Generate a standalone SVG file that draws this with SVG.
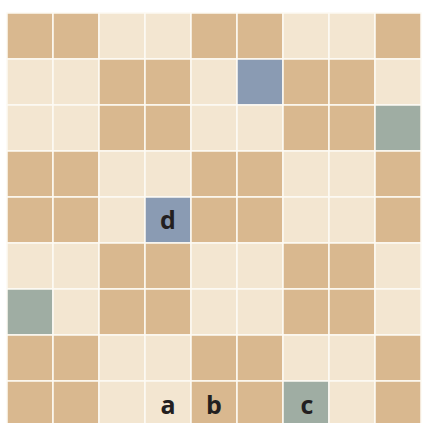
<svg xmlns="http://www.w3.org/2000/svg" width="422" height="423" viewBox="0 0 422 423">
<style>
rect{stroke:#fdfaf4;stroke-width:1.5}
.D{fill:#d9b88f}
.L{fill:#f3e6d1}
.B{fill:#8a9bb3}
.G{fill:#9fada3}
text{font-family:"Open Sans","Liberation Sans",sans-serif;font-weight:bold;font-size:25px;fill:#231f20;text-anchor:middle}
</style>
<rect width="422" height="423" fill="#ffffff" style="stroke:none"/>
<g id="grid">
<g id="row0">
<rect class="D" x="7" y="13" width="46" height="46"/><rect class="D" x="53" y="13" width="46" height="46"/><rect class="L" x="99" y="13" width="46" height="46"/><rect class="L" x="145" y="13" width="46" height="46"/><rect class="D" x="191" y="13" width="46" height="46"/><rect class="D" x="237" y="13" width="46" height="46"/><rect class="L" x="283" y="13" width="46" height="46"/><rect class="L" x="329" y="13" width="46" height="46"/><rect class="D" x="375" y="13" width="46" height="46"/>
</g>
<g id="row1">
<rect class="L" x="7" y="59" width="46" height="46"/><rect class="L" x="53" y="59" width="46" height="46"/><rect class="D" x="99" y="59" width="46" height="46"/><rect class="D" x="145" y="59" width="46" height="46"/><rect class="L" x="191" y="59" width="46" height="46"/><rect class="B" x="237" y="59" width="46" height="46"/><rect class="D" x="283" y="59" width="46" height="46"/><rect class="D" x="329" y="59" width="46" height="46"/><rect class="L" x="375" y="59" width="46" height="46"/>
</g>
<g id="row2">
<rect class="L" x="7" y="105" width="46" height="46"/><rect class="L" x="53" y="105" width="46" height="46"/><rect class="D" x="99" y="105" width="46" height="46"/><rect class="D" x="145" y="105" width="46" height="46"/><rect class="L" x="191" y="105" width="46" height="46"/><rect class="L" x="237" y="105" width="46" height="46"/><rect class="D" x="283" y="105" width="46" height="46"/><rect class="D" x="329" y="105" width="46" height="46"/><rect class="G" x="375" y="105" width="46" height="46"/>
</g>
<g id="row3">
<rect class="D" x="7" y="151" width="46" height="46"/><rect class="D" x="53" y="151" width="46" height="46"/><rect class="L" x="99" y="151" width="46" height="46"/><rect class="L" x="145" y="151" width="46" height="46"/><rect class="D" x="191" y="151" width="46" height="46"/><rect class="D" x="237" y="151" width="46" height="46"/><rect class="L" x="283" y="151" width="46" height="46"/><rect class="L" x="329" y="151" width="46" height="46"/><rect class="D" x="375" y="151" width="46" height="46"/>
</g>
<g id="row4">
<rect class="D" x="7" y="197" width="46" height="46"/><rect class="D" x="53" y="197" width="46" height="46"/><rect class="L" x="99" y="197" width="46" height="46"/><rect class="B" x="145" y="197" width="46" height="46"/><rect class="D" x="191" y="197" width="46" height="46"/><rect class="D" x="237" y="197" width="46" height="46"/><rect class="L" x="283" y="197" width="46" height="46"/><rect class="L" x="329" y="197" width="46" height="46"/><rect class="D" x="375" y="197" width="46" height="46"/>
</g>
<g id="row5">
<rect class="L" x="7" y="243" width="46" height="46"/><rect class="L" x="53" y="243" width="46" height="46"/><rect class="D" x="99" y="243" width="46" height="46"/><rect class="D" x="145" y="243" width="46" height="46"/><rect class="L" x="191" y="243" width="46" height="46"/><rect class="L" x="237" y="243" width="46" height="46"/><rect class="D" x="283" y="243" width="46" height="46"/><rect class="D" x="329" y="243" width="46" height="46"/><rect class="L" x="375" y="243" width="46" height="46"/>
</g>
<g id="row6">
<rect class="G" x="7" y="289" width="46" height="46"/><rect class="L" x="53" y="289" width="46" height="46"/><rect class="D" x="99" y="289" width="46" height="46"/><rect class="D" x="145" y="289" width="46" height="46"/><rect class="L" x="191" y="289" width="46" height="46"/><rect class="L" x="237" y="289" width="46" height="46"/><rect class="D" x="283" y="289" width="46" height="46"/><rect class="D" x="329" y="289" width="46" height="46"/><rect class="L" x="375" y="289" width="46" height="46"/>
</g>
<g id="row7">
<rect class="D" x="7" y="335" width="46" height="46"/><rect class="D" x="53" y="335" width="46" height="46"/><rect class="L" x="99" y="335" width="46" height="46"/><rect class="L" x="145" y="335" width="46" height="46"/><rect class="D" x="191" y="335" width="46" height="46"/><rect class="D" x="237" y="335" width="46" height="46"/><rect class="L" x="283" y="335" width="46" height="46"/><rect class="L" x="329" y="335" width="46" height="46"/><rect class="D" x="375" y="335" width="46" height="46"/>
</g>
<g id="row8">
<rect class="D" x="7" y="381" width="46" height="46"/><rect class="D" x="53" y="381" width="46" height="46"/><rect class="L" x="99" y="381" width="46" height="46"/><rect class="L" x="145" y="381" width="46" height="46"/><rect class="D" x="191" y="381" width="46" height="46"/><rect class="D" x="237" y="381" width="46" height="46"/><rect class="G" x="283" y="381" width="46" height="46"/><rect class="L" x="329" y="381" width="46" height="46"/><rect class="D" x="375" y="381" width="46" height="46"/>
</g>
</g>
<g id="labels">
<text id="label-d" x="168" y="229">d</text>
<text id="label-a" x="168" y="414">a</text>
<text id="label-b" x="214" y="414">b</text>
<text id="label-c" x="307" y="414">c</text>
</g>
</svg>
